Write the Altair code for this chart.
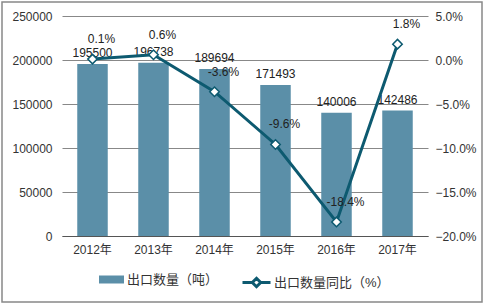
import altair as alt
import pandas as pd

years = ["2012年", "2013年", "2014年", "2015年", "2016年", "2017年"]
quantity = [195500, 196738, 189694, 171493, 140006, 142486]
growth = [0.1, 0.6, -3.6, -9.6, -18.4, 1.8]

bar_name = "出口数量（吨）"
line_name = "出口数量同比（%）"

df = pd.DataFrame({
    "year": years,
    "qty": quantity,
    "pct": growth,
    "pct_label": [f"{v:.1f}%" for v in growth],
    "s_bar": bar_name,
    "s_line": line_name,
})

FONT = "Liberation Sans, Arial, Noto Sans CJK SC"
BAR_COLOR = "#5B8FA8"
LINE_COLOR = "#0D5A70"

x = alt.X("year:N", sort=years, title=None,
          scale=alt.Scale(paddingInner=0.5, paddingOuter=0.25),
          axis=alt.Axis(labelAngle=0, labelFontSize=12, labelColor="#333333",
                        domainColor="#555555", domainWidth=1, ticks=False, grid=False,
                        labelPadding=8, labelFont=FONT))

yq = alt.Y("qty:Q", title=None,
           scale=alt.Scale(domain=[0, 250000], nice=False),
           axis=alt.Axis(values=[0, 50000, 100000, 150000, 200000, 250000],
                         format="d", grid=True, gridColor="#888888", gridWidth=1,
                         gridOpacity=1,
                         domain=False, ticks=False, labelFontSize=12,
                         labelColor="#333333", labelPadding=10, labelFont=FONT))

yp = alt.Y("pct:Q", title=None,
           scale=alt.Scale(domain=[-20, 5], nice=False),
           axis=alt.Axis(orient="right", values=[-20, -15, -10, -5, 0, 5],
                         labelExpr="format(datum.value, '.1f') + '%'",
                         grid=False, domain=False, ticks=False, labelFontSize=12,
                         labelColor="#333333", labelPadding=7, labelFont=FONT))

left_base = alt.Chart(df).encode(x=x, y=yq)

bars = left_base.mark_bar(color=BAR_COLOR).encode(
    color=alt.Color("s_bar:N", scale=alt.Scale(range=[BAR_COLOR]),
                    legend=alt.Legend(title=None, orient="none", legendX=37, legendY=251,
                                      symbolType="M-1,-0.32H1V0.32H-1Z", symbolSize=625,
                                      symbolStrokeWidth=0, labelFontSize=13,
                                      labelColor="#333333", labelFont=FONT, padding=0,
                                      labelOffset=3)),
)

bar_text = left_base.mark_text(dy=-11, fontSize=12, color="#222222", font=FONT).encode(
    text=alt.Text("qty:Q", format="d"),
)

left = alt.layer(bars, bar_text)

right_base = alt.Chart(df).encode(x=x, y=yp)

line = right_base.mark_line(strokeWidth=3).encode(
    color=alt.Color("s_line:N", scale=alt.Scale(range=[LINE_COLOR]),
                    legend=alt.Legend(title=None, orient="none", legendX=179, legendY=251,
                                      symbolType="M-1,0H-0.3M0.3,0H1M0,-0.3L0.3,0L0,0.3L-0.3,0Z",
                                      symbolSize=784, symbolStrokeWidth=3,
                                      symbolFillColor="white", symbolStrokeColor=LINE_COLOR,
                                      labelFontSize=13, labelColor="#333333",
                                      labelFont=FONT, padding=0, labelOffset=2)),
)

points = right_base.mark_point(shape="diamond", filled=True, fill="white", stroke=LINE_COLOR,
                               strokeWidth=1.5, size=90, opacity=1)

line_text = right_base.mark_text(dx=9, dy=-20, fontSize=12, color="#222222", font=FONT).encode(
    text="pct_label:N",
)

right = alt.layer(line, points, line_text)

frame = alt.Chart(pd.DataFrame({"a": [0]})).mark_rect(
    fill="transparent", stroke="#888888", strokeWidth=1.5
).encode(
    x=alt.value(-60), x2=alt.value(420), y=alt.value(-14), y2=alt.value(286)
)

chart = alt.layer(left, right, frame).resolve_scale(
    y="independent", color="independent"
).resolve_legend(color="independent").properties(
    width=366, height=220,
    background="white",
    autosize=alt.AutoSizeParams(type="none"),
    padding={"left": 62, "top": 16, "right": 59, "bottom": 71},
).configure_view(stroke="transparent", strokeWidth=0)

chart.save("out.html", embed_options={"renderer": "svg", "actions": False})
